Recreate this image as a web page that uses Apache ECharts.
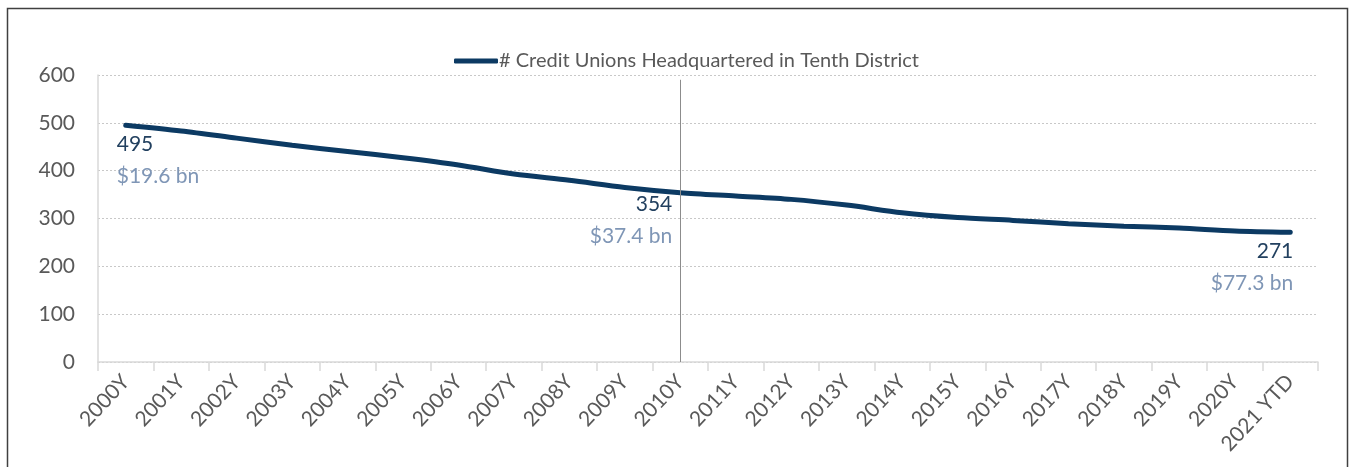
<!DOCTYPE html>
<html>
<head>
<meta charset="utf-8">
<script src="https://cdn.jsdelivr.net/npm/echarts@6/dist/echarts.min.js"></script>
<style>
  html, body { margin: 0; padding: 0; background: #fff; }
  #chart { width: 1354px; height: 467px; }
</style>
</head>
<body>
<div id="chart"></div>
<script>
// data
const years = ['2000Y', '2001Y', '2002Y', '2003Y', '2004Y', '2005Y', '2006Y', '2007Y', '2008Y', '2009Y', '2010Y',
  '2011Y', '2012Y', '2013Y', '2014Y', '2015Y', '2016Y', '2017Y', '2018Y', '2019Y', '2020Y', '2021 YTD'];
const creditUnions = [495, 483, 468, 453, 440, 427, 412, 393, 380, 365, 354,
  347, 340, 328, 312, 302, 296, 289, 284, 280, 274, 271];
const annotatedIdx = [0, 10, 21];
const annotatedAssets = ['$19.6 bn', '$37.4 bn', '$77.3 bn'];
const yTicks = [0, 100, 200, 300, 400, 500, 600];
const seriesName = '# Credit Unions Headquartered in Tenth District';
const markerYear = '2010Y';

const FONT = 'Lato, "Open Sans", sans-serif';
const NAVY = '#0c3a63';

// label placement per annotated point
const labelPlace = [
  { align: 'left', offset: [-9, 2] },
  { align: 'right', offset: [-8, -5] },
  { align: 'right', offset: [3, 2] },
];

const seriesData = creditUnions.map((v, i) => {
  const k = annotatedIdx.indexOf(i);
  if (k < 0) return v;
  return {
    value: v,
    label: {
      show: true,
      position: 'bottom',
      distance: 0,
      align: labelPlace[k].align,
      offset: labelPlace[k].offset,
      formatter: '{a|' + v + '}\n{b|' + annotatedAssets[k] + '}',
      rich: {
        a: { fontFamily: FONT, fontSize: 21, color: '#22405f', lineHeight: 32 },
        b: { fontFamily: FONT, fontSize: 21, color: '#7f96b6', lineHeight: 32 },
      },
    },
  };
});

const chart = echarts.init(document.getElementById('chart'));
chart.setOption({
  animation: false,
  backgroundColor: '#fff',
  textStyle: { fontFamily: FONT },
  graphic: [{
    type: 'rect',
    shape: { x: 7.5, y: 8.5, width: 1340, height: 500 },
    style: { fill: 'none', stroke: '#404040', lineWidth: 1.5 },
    silent: true,
  }],
  legend: {
    top: 46,
    left: 449,
    itemWidth: 44,
    itemHeight: 5,
    itemGap: 10,
    data: [{ name: seriesName, icon: 'roundRect' }],
    textStyle: { fontFamily: FONT, fontSize: 20, color: '#595959', padding: [0, 0, 0, -4] },
  },
  grid: { left: 98, right: 36, top: 75, bottom: 105 },
  xAxis: {
    type: 'category',
    data: years,
    boundaryGap: true,
    axisLine: { lineStyle: { color: '#d9d9d9', width: 1.5 } },
    axisTick: { show: true, length: 9, lineStyle: { color: '#d9d9d9', width: 1.5 } },
    axisLabel: { rotate: 47, interval: 0, margin: 16, fontFamily: FONT, fontSize: 21, color: '#595959' },
  },
  yAxis: {
    type: 'value',
    min: yTicks[0],
    max: yTicks[yTicks.length - 1],
    interval: 100,
    axisLine: { show: true, lineStyle: { color: '#d9d9d9', width: 1.5 } },
    axisTick: { show: false },
    axisLabel: { margin: 23, fontFamily: FONT, fontSize: 21, color: '#595959' },
    splitLine: { lineStyle: { color: '#c8c8c8', type: [2, 2], width: 1 } },
  },
  series: [{
    name: seriesName,
    type: 'line',
    smooth: 0.3,
    data: seriesData,
    symbol: 'circle',
    symbolSize: 2,
    showSymbol: true,
    itemStyle: { color: NAVY },
    lineStyle: { color: NAVY, width: 5, cap: 'round' },
    z: 3,
    markLine: {
      silent: true,
      symbol: 'none',
      label: { show: false },
      lineStyle: { color: '#8c8c8c', width: 1, type: 'solid' },
      data: [[{ coord: [markerYear, 590] }, { coord: [markerYear, 0] }]],
    },
  }],
});
</script>
</body>
</html>
